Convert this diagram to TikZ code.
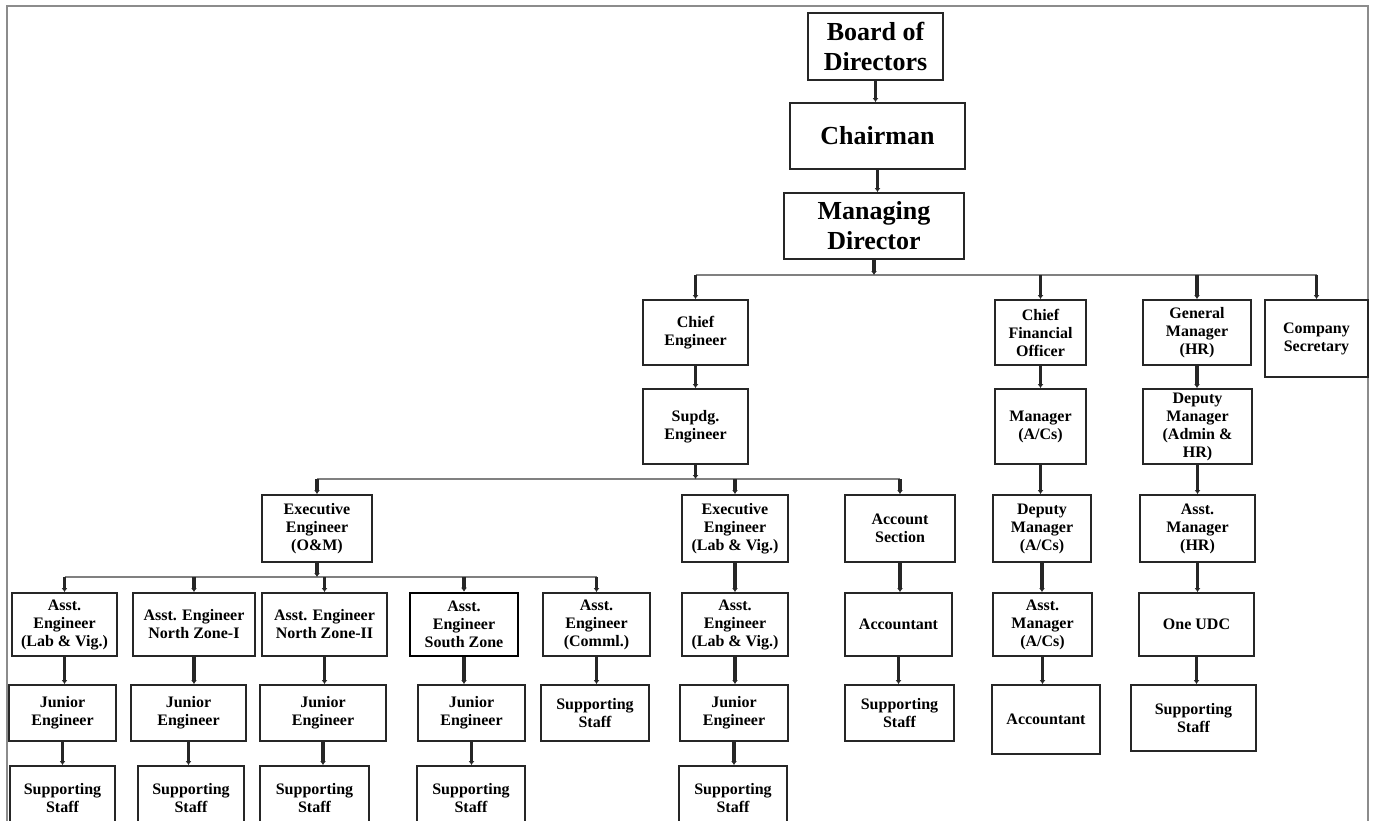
\documentclass[tikz,border=0pt]{standalone}
\usepackage{fontspec}
\setmainfont{Liberation Serif}
\usetikzlibrary{arrows.meta}

\begin{document}
\begin{tikzpicture}[x=1pt, y=-1pt,
		box/.style={draw=black!85, line width=1.8pt, align=center, inner sep=1pt,
			font=\bfseries\fontsize{16}{18}\selectfont},
		topbox/.style={box, font=\bfseries\fontsize{26}{30}\selectfont},
		wh/.style 2 args={minimum width=#1pt, minimum height=#2pt},
		link/.style={line width=3.8pt, black!85, -{Latex[length=4pt,width=6pt]}},
		bus/.style={line width=1.5pt, black!50},
		frame/.style={line width=1.6pt, black!45}]
	\useasboundingbox (0,0) rectangle (1379,821);
	\clip (0,0) rectangle (1379,821);
	\def\rowB{332.5}
	\def\rowC{426.5}
	\def\rowD{528.5}
	\def\rowE{624.5}
	\def\rowF{713}
	\def\rowG{798}
	
	\draw[frame] (7,830) -- (7,6) -- (1368,6) -- (1368,830);
	
	% top of the chart
	\node[topbox, wh={135}{67}] (bod) at (875.5,46.5) {Board of\\Directors};
	\node[topbox, wh={175}{66}] (chair) at (877.5,136) {Chairman};
	\node[topbox, wh={180}{66}] (md) at (874,226) {Managing\\Director};
	
	\node[box, wh={105}{65}] (ce) at (695.5,\rowB) {Chief\\Engineer};
	\node[box, wh={91}{65}] (cfo) at (1040.5,\rowB) {Chief\\Financial\\Officer};
	\node[box, wh={108}{65}] (gm) at (1197,\rowB) {General\\Manager\\(HR)};
	\node[box, wh={103}{77}] (cs) at (1316.5,338.5) {Company\\Secretary};
	
	\node[box, wh={105}{75}] (se) at (695.5,\rowC) {Supdg.\\Engineer};
	\node[box, wh={91}{75}] (mac) at (1040.5,\rowC) {Manager\\(A/Cs)};
	\node[box, wh={109}{75}] (dmhr) at (1197.5,\rowC) {Deputy\\Manager\\(Admin \&\\HR)};
	
	\node[box, wh={110}{67}] (eeom) at (317,\rowD) {Executive\\Engineer\\(O\&M)};
	\node[box, wh={106}{67}] (eelv) at (735,\rowD) {Executive\\Engineer\\(Lab \& Vig.)};
	\node[box, wh={110}{67}] (acs) at (900,\rowD) {Account\\Section};
	\node[box, wh={98}{67}] (dmac) at (1042,\rowD) {Deputy\\Manager\\(A/Cs)};
	\node[box, wh={115}{67}] (amhr) at (1197.5,\rowD) {Asst.\\Manager\\(HR)};
	
	% assistant engineers and the rest
	\node[box, wh={105}{63}] (ae1) at (64.5,\rowE) {Asst.\\Engineer\\(Lab \& Vig.)};
	\node[box, wh={122}{63}] (ae2) at (194,\rowE) {Asst. Engineer\\North Zone-I};
	\node[box, wh={125}{63}] (ae3) at (324.5,\rowE) {Asst. Engineer\\North Zone-II};
	\node[box, wh={108}{63}, draw=black, line width=2.6pt] (ae4) at (464,\rowE) {Asst.\\Engineer\\South Zone};
	\node[box, wh={107}{63}] (ae5) at (596.5,\rowE) {Asst.\\Engineer\\(Comml.)};
	\node[box, wh={106}{63}] (ae6) at (735,\rowE) {Asst.\\Engineer\\(Lab \& Vig.)};
	\node[box, wh={107}{63}] (acct1) at (898.5,\rowE) {Accountant};
	\node[box, wh={99}{63}] (amac) at (1042.5,\rowE) {Asst.\\Manager\\(A/Cs)};
	\node[box, wh={115}{63}] (udc) at (1196.5,\rowE) {One UDC};
	
	\node[box, wh={107}{56}] (je1) at (62.5,\rowF) {Junior\\Engineer};
	\node[box, wh={115}{56}] (je2) at (188.5,\rowF) {Junior\\Engineer};
	\node[box, wh={126}{56}] (je3) at (323,\rowF) {Junior\\Engineer};
	\node[box, wh={107}{56}] (je4) at (471.5,\rowF) {Junior\\Engineer};
	\node[box, wh={108}{56}] (ss5) at (595,\rowF) {Supporting\\Staff};
	\node[box, wh={108}{56}] (je6) at (734,\rowF) {Junior\\Engineer};
	\node[box, wh={109}{56}] (ss7) at (899.5,\rowF) {Supporting\\Staff};
	\node[box, wh={108}{69}] (acct2) at (1046,719.5) {Accountant};
	\node[box, wh={125}{66}] (ss9) at (1193.5,718) {Supporting\\Staff};
	
	\node[box, wh={105}{64}] (ss1) at (62.5,\rowG) {Supporting\\Staff};
	\node[box, wh={106}{64}] (ss2) at (191,\rowG) {Supporting\\Staff};
	\node[box, wh={109}{64}] (ss3) at (314.5,\rowG) {Supporting\\Staff};
	\node[box, wh={108}{64}] (ss4) at (471,\rowG) {Supporting\\Staff};
	\node[box, wh={108}{64}] (ss6) at (733,\rowG) {Supporting\\Staff};
	
	% straight links
	\foreach \a/\b in {bod/chair, chair/md, ce/se, cfo/mac, gm/dmhr, mac/dmac, dmhr/amhr,
		eelv/ae6, acs/acct1, dmac/amac, amhr/udc, ae1/je1, ae2/je2, ae3/je3, ae4/je4,
		ae5/ss5, ae6/je6, acct1/ss7, amac/acct2, udc/ss9, je1/ss1, je2/ss2, je3/ss3,
		je4/ss4, je6/ss6}
		\draw[link] (\a.south) -- (\a.south |- \b.north);
	
	% buses
	\coordinate (b1) at (0,275);
	\coordinate (b2) at (0,479);
	\coordinate (b3) at (0,577);
	\draw[bus] (ce.north |- b1) -- (cs.north |- b1);
	\draw[bus] (eeom.north |- b2) -- (acs.north |- b2);
	\draw[bus] (ae1.north |- b3) -- (ae5.north |- b3);
	\draw[link] (md.south) -- (md.south |- b1);
	\draw[link] (se.south) -- (se.south |- b2);
	\draw[link] (eeom.south) -- (eeom.south |- b3);
	\foreach \c in {ce, cfo, gm, cs}
		\draw[link] (\c.north |- b1) -- (\c.north);
	\foreach \c in {eeom, eelv, acs}
		\draw[link] (\c.north |- b2) -- (\c.north);
	\foreach \c in {ae1, ae2, ae3, ae4, ae5}
		\draw[link] (\c.north |- b3) -- (\c.north);
\end{tikzpicture}
\end{document}
